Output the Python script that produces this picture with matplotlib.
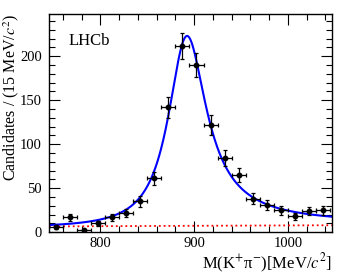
import numpy as np
import matplotlib
matplotlib.use("Agg")
import matplotlib.pyplot as plt
from matplotlib.ticker import MultipleLocator

# binned data, 15 MeV bins from 745 to 1045
bin_lo = 745.0
bin_w = 15.0
counts = [6, 17, 2, 10, 17, 22, 35, 61, 142, 212,
          190, 122, 84, 65, 38, 31, 25, 18, 24, 25]

# fit model (K*(892) relativistic P-wave Breit-Wigner + linear background)
m0 = 893.0
gamma0 = 50.0
peak_height = 216.0
bkg_lo, bkg_hi = 6.5, 7.8
m_K, m_pi = 493.7, 139.6


def q_mom(m):
    a = (m**2 - (m_K + m_pi)**2) * (m**2 - (m_K - m_pi)**2)
    return np.sqrt(np.clip(a, 0, None)) / (2 * m)


def rbw(m):
    r = 0.003
    q, q0 = q_mom(m), q_mom(m0)
    g = gamma0 * (q / q0)**3 * (m0 / m) * (1 + (r * q0)**2) / (1 + (r * q)**2)
    return q * m0 * g / ((m0**2 - m**2)**2 + (m0 * g)**2)


def main():
    plt.rcParams["font.family"] = ["Liberation Serif", "DejaVu Serif"]
    plt.rcParams["mathtext.fontset"] = "stix"

    n = len(counts)
    x = bin_lo + bin_w * (np.arange(n) + 0.5)
    y = np.array(counts, dtype=float)
    yerr = np.sqrt(y)
    x_hi = bin_lo + bin_w * n

    mm = np.linspace(bin_lo, x_hi + 2, 600)
    bkg = bkg_lo + (bkg_hi - bkg_lo) * (mm - bin_lo) / (x_hi - bin_lo)
    sig = rbw(mm)
    sig = peak_height * sig / sig.max()

    fig = plt.figure(figsize=(3.49, 2.76), dpi=100)
    ax = fig.add_axes([0.140, 0.159, 0.811, 0.790])

    ax.plot(mm, bkg, ":", color="red", lw=1.3)
    ax.plot(mm, sig + bkg, "-", color="blue", lw=1.5)
    ax.errorbar(x, y, xerr=bin_w / 2, yerr=yerr, fmt="o", color="black",
                ms=3.2, elinewidth=0.9, capsize=1.5, capthick=0.9)

    ax.set_xlim(bin_lo, x_hi + 2)
    ax.set_ylim(0, 248)
    ax.xaxis.set_major_locator(MultipleLocator(100))
    ax.xaxis.set_minor_locator(MultipleLocator(20))
    ax.yaxis.set_major_locator(MultipleLocator(50))
    ax.yaxis.set_minor_locator(MultipleLocator(10))
    ax.tick_params(which="both", direction="in", top=True, right=True,
                   labelsize=10.5, width=0.8)
    ax.tick_params(which="major", length=8)
    ax.tick_params(which="minor", length=4)
    ax.tick_params(axis="y", pad=5)
    for s in ax.spines.values():
        s.set_linewidth(1.0)

    ax.set_xlabel("M(K$^{+}$π$^{-}$)[MeV/$c^2$]", fontsize=12, loc="right",
                  labelpad=1)
    ax.set_ylabel(r"Candidates / (15 MeV/$c^2$)", fontsize=11.5, loc="top")
    ax.yaxis.set_label_coords(-0.097, 1.0)
    ax.text(0.07, 0.86, "LHCb", transform=ax.transAxes, fontsize=12)

    fig.savefig("out.png", dpi=100)


if __name__ == "__main__":
    main()
